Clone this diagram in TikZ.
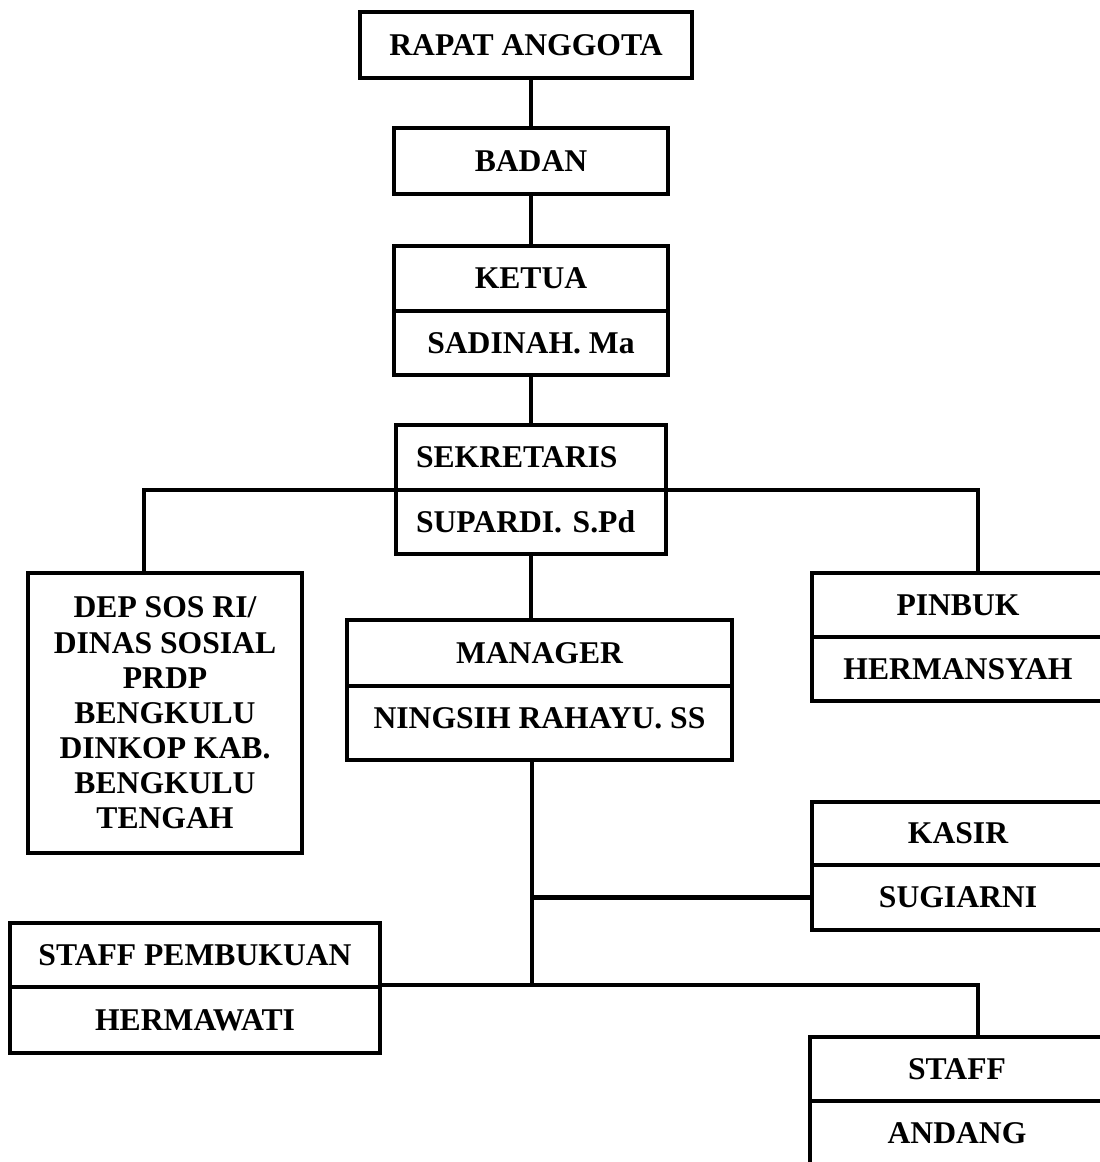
\documentclass[tikz,border=0pt]{standalone}
\usepackage{fontspec}
\setmainfont{Liberation Serif}
\frenchspacing

\begin{document}
\begin{tikzpicture}
  [x=0.2mm,y=-0.2mm,line width=2.3pt,
   every node/.style={draw,rectangle,inner sep=2pt,align=center,
     font=\bfseries\fontsize{18}{20}\selectfont}]
  \useasboundingbox (0,0) rectangle (1100,1162);
  \clip (0,0) rectangle (1100,1162);

  \node[minimum width=66.4mm,minimum height=13.2mm] (rapat) at (526,45) {RAPAT ANGGOTA};
  \node[minimum width=54.8mm,minimum height=13.2mm] (badan) at (531,161) {BADAN};
  \node[minimum width=54.8mm,minimum height=13mm] (ketua) at (531,278.5) {KETUA};
  \node[minimum width=54.8mm,minimum height=12.8mm] (sadinah) at (531,343) {SADINAH. Ma};
  \node[text width=46mm,inner xsep=4mm,align=left,minimum height=13mm] (sekre) at (531,457.5) {SEKRETARIS};
  \node[text width=46mm,inner xsep=4mm,align=left,minimum height=12.8mm] (supardi) at (531,522) {SUPARDI. S.Pd};

  \node[minimum width=54.8mm,minimum height=56mm] (depsos) at (165,713)
    {DEP SOS RI/\\DINAS SOSIAL\\PRDP\\BENGKULU\\DINKOP KAB.\\BENGKULU\\TENGAH};
  \node[minimum width=77mm,minimum height=13.2mm] (manager) at (539.5,653) {MANAGER};
  \node[minimum width=77mm,minimum height=14.8mm,text depth=6pt] (ningsih) at (539.5,723) {NINGSIH RAHAYU. SS};
  \node[minimum width=58.4mm,minimum height=12.8mm] (pinbuk) at (958,605) {PINBUK};
  \node[minimum width=58.4mm,minimum height=12.8mm] (hermansyah) at (958,669) {HERMANSYAH};

  \node[minimum width=58.4mm,minimum height=12.6mm] (kasir) at (958,833.5) {KASIR};
  \node[minimum width=58.4mm,minimum height=13mm] (sugiarni) at (958,897.5) {SUGIARNI};
  \node[minimum width=74mm,minimum height=12.8mm] (pembukuan) at (195,955) {STAFF PEMBUKUAN};
  \node[minimum width=74mm,minimum height=13.2mm] (hermawati) at (195,1020) {HERMAWATI};
  \node[minimum width=58.8mm,minimum height=12.8mm] (staff) at (957,1069) {STAFF};
  \node[minimum width=58.8mm,minimum height=12.8mm] (andang) at (957,1133) {ANDANG};

  \coordinate (jl) at (144,490);
  \coordinate (jr) at (978,490);
  \coordinate (jm) at (532,987);
  \coordinate (js) at (978,987);

  \draw (rapat.south -| badan.north) -- (badan.north);
  \foreach \from/\to in {badan/ketua,sadinah/sekre}
    \draw (\from.south) -- (\to.north);
  \draw (supardi.south) -- (supardi.south |- manager.north);
  \draw (jl |- depsos.north) -- (jl) -- (jr) -- (jr |- pinbuk.north);
  \draw (ningsih.south -| jm) -- (jm |- hermawati.north);
  \draw (jm |- sugiarni.west) -- (sugiarni.west);
  \draw (hermawati.north east) -| (js |- staff.north);

\end{tikzpicture}
\end{document}
